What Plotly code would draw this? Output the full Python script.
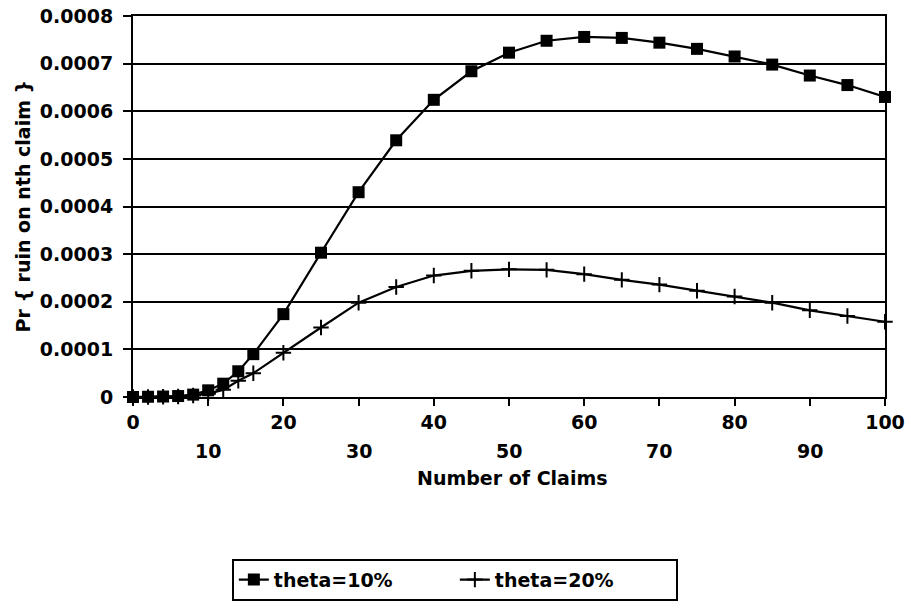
import plotly.graph_objects as go

claims = [0, 2, 4, 6, 8, 10, 12, 14, 16, 20, 25, 30, 35, 40, 45, 50, 55, 60, 65, 70, 75, 80, 85, 90, 95, 100]
theta10 = [0, 0.0000005, 0.000001, 0.000002, 0.000005, 0.000014, 0.000028, 0.000054, 0.00009, 0.000174,
           0.000303, 0.00043, 0.000539, 0.000624, 0.000684, 0.000723, 0.000748, 0.000756, 0.000754,
           0.000744, 0.000731, 0.000715, 0.000698, 0.000675, 0.000655, 0.00063]
theta20 = [0, 0, 0.0000005, 0.000001, 0.000003, 0.000007, 0.000015, 0.000034, 0.00005, 0.000093,
           0.000146, 0.000198, 0.000231, 0.000255, 0.000265, 0.000268, 0.000267, 0.000258, 0.000246,
           0.000236, 0.000223, 0.000211, 0.000198, 0.000182, 0.00017, 0.000158]

y_tickvals = [0, 0.0001, 0.0002, 0.0003, 0.0004, 0.0005, 0.0006, 0.0007, 0.0008]
y_ticktext = ["0", "0.0001", "0.0002", "0.0003", "0.0004", "0.0005", "0.0006", "0.0007", "0.0008"]
x_upper_vals = [0, 20, 40, 60, 80, 100]
x_lower_vals = [10, 30, 50, 70, 90]

FONT = dict(family="DejaVu Sans", size=19, color="black", weight="bold")

fig = go.Figure()
fig.add_trace(go.Scatter(
    x=claims, y=theta10, name="theta=10%", mode="lines+markers",
    line=dict(color="black", width=2.2),
    marker=dict(symbol="square", size=12, color="black"),
    cliponaxis=False,
))
fig.add_trace(go.Scatter(
    x=claims, y=theta20, name="theta=20%", mode="lines+markers",
    line=dict(color="black", width=2.2),
    marker=dict(symbol="cross-thin", size=11, color="black", line=dict(color="black", width=2)),
    cliponaxis=False,
))

all_x_ticks = sorted(x_upper_vals + x_lower_vals)
fig.update_xaxes(
    range=[0, 100], tickmode="array", tickvals=all_x_ticks,
    ticktext=[str(v) if v in x_upper_vals else "" for v in all_x_ticks],
    ticks="outside", ticklen=7, tickwidth=2, tickcolor="black",
    showline=True, linecolor="black", linewidth=2, mirror=True,
    showgrid=False, zeroline=False, tickfont=FONT, automargin=False,
    ticklabeloverflow="allow",
)
fig.update_yaxes(
    range=[0, 0.0008], tickmode="array", tickvals=y_tickvals, ticktext=y_ticktext,
    ticks="outside", ticklen=8, tickwidth=2, tickcolor="black",
    showline=True, linecolor="black", linewidth=2, mirror=True,
    showgrid=True, gridcolor="black", gridwidth=2, zeroline=False, tickfont=FONT,
    automargin=False, ticklabelstandoff=6, ticklabeloverflow="allow",
)

annotations = []
for v in x_lower_vals:
    annotations.append(dict(x=v, y=-0.141, xref="x", yref="paper", text=str(v),
                            showarrow=False, font=FONT, xanchor="center", yanchor="middle"))
annotations.append(dict(x=0.505, y=-0.213, xref="paper", yref="paper", text="Number of Claims",
                        showarrow=False, font=FONT, xanchor="center", yanchor="middle"))
annotations.append(dict(x=-0.1476, y=0.5, xref="paper", yref="paper", text="Pr { ruin on nth claim }",
                        showarrow=False, font=FONT, xanchor="center", yanchor="middle", textangle=-90))

fig.update_layout(
    width=911, height=613,
    margin=dict(l=133, r=26, t=16, b=213),
    paper_bgcolor="white", plot_bgcolor="white",
    font=FONT,
    showlegend=True,
    legend=dict(orientation="h", x=0.428, xanchor="center", y=-0.4245, yanchor="top",
                bordercolor="black", borderwidth=2, bgcolor="white", font=FONT,
                entrywidth=176, entrywidthmode="pixels"),
    annotations=annotations,
)

fig.write_html("out.html",
               config={"displayModeBar": False},
               post_script="document.body.style.margin='0';document.body.style.overflow='hidden';")
